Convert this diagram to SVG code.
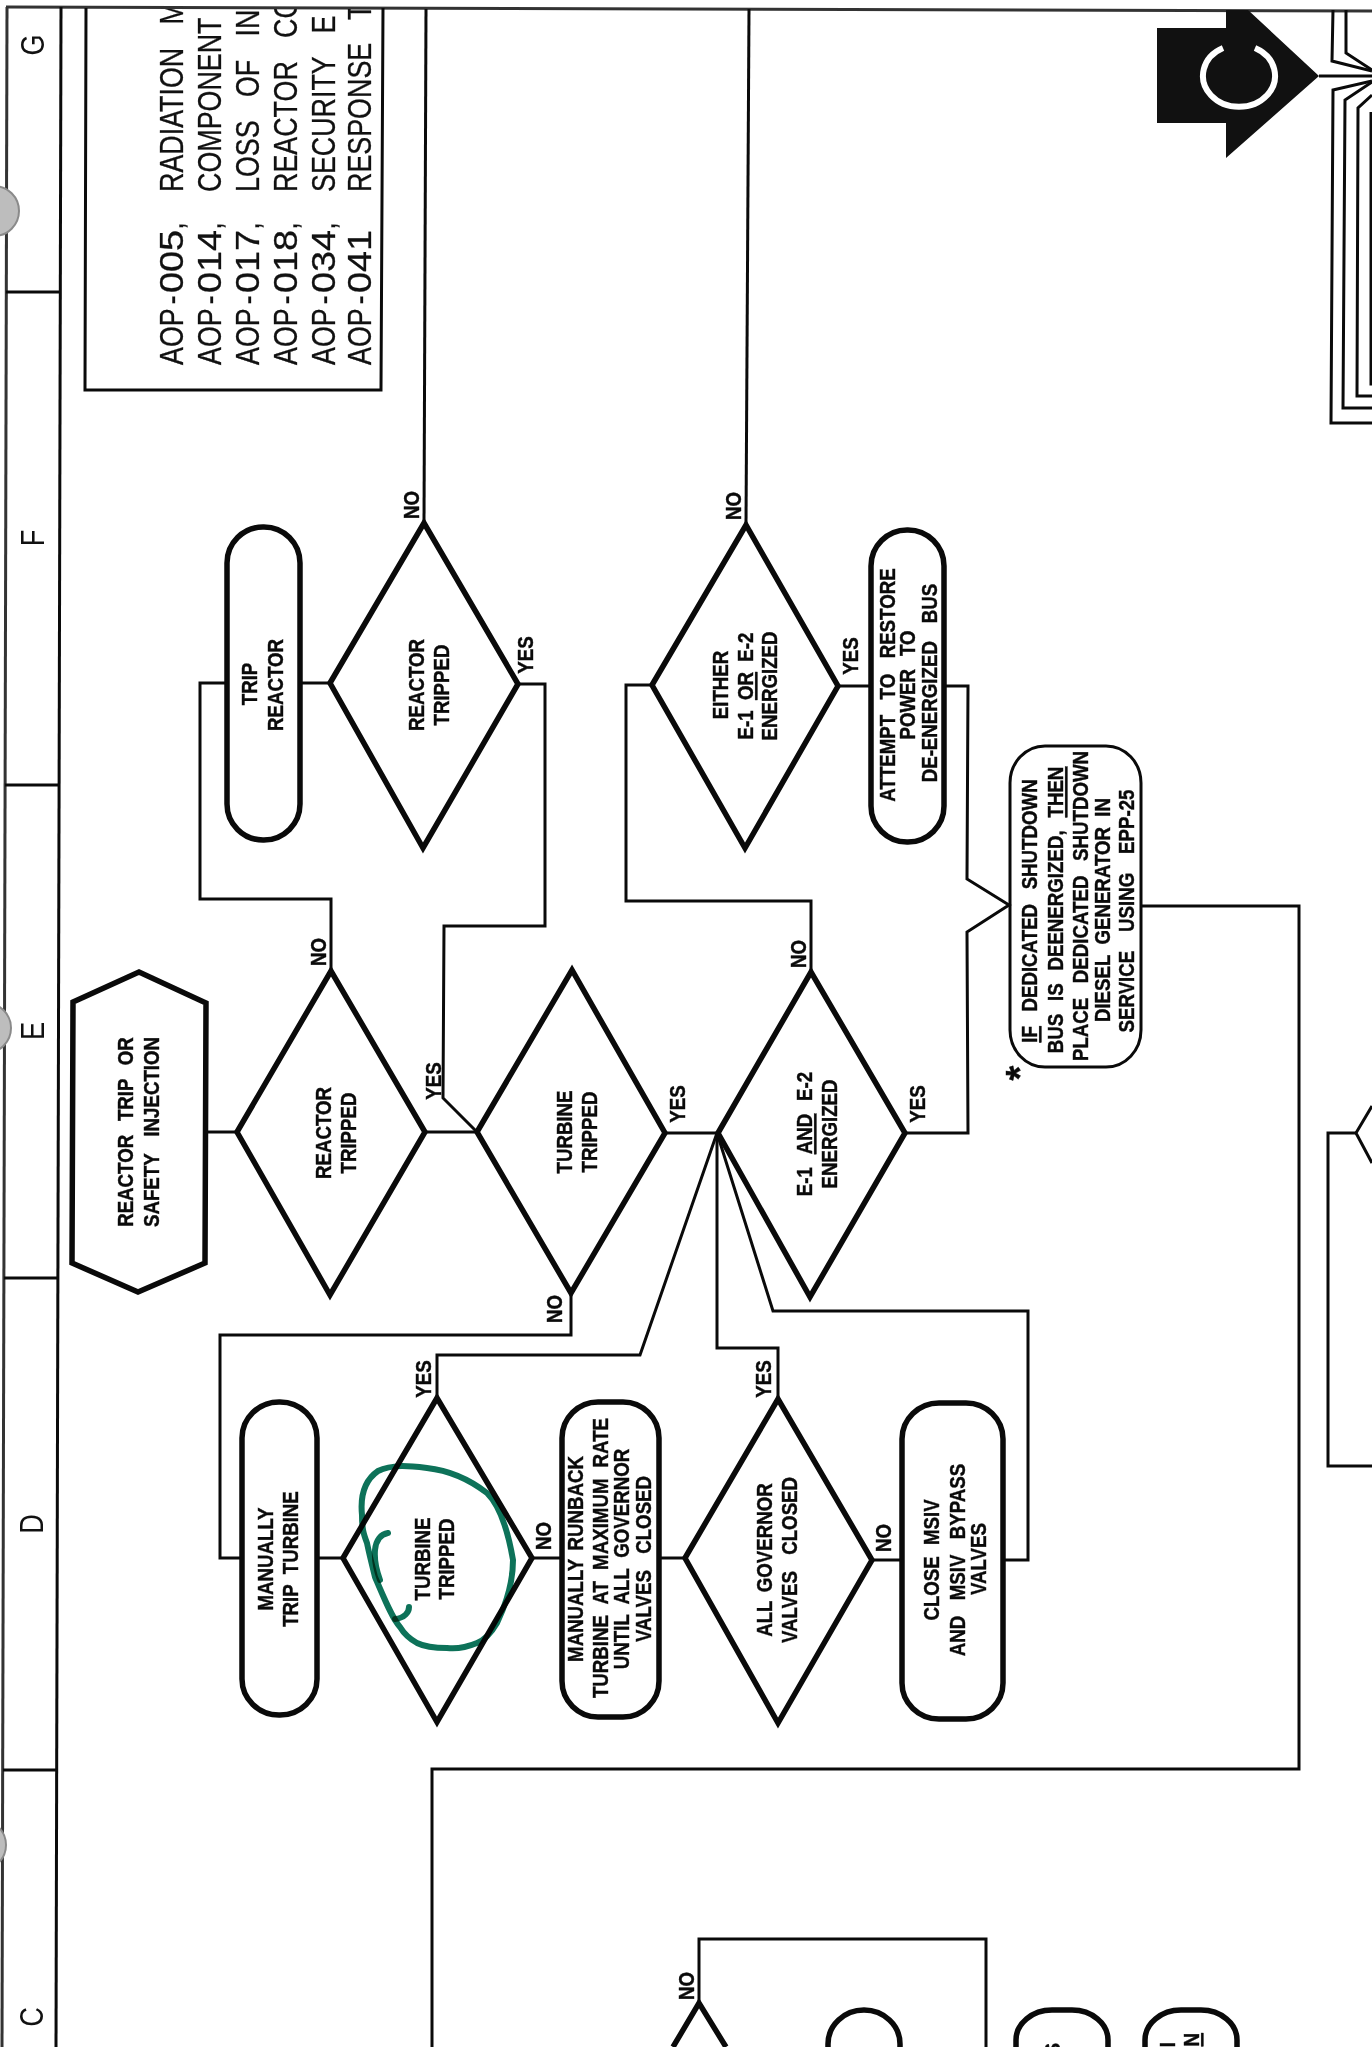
<svg xmlns="http://www.w3.org/2000/svg" width="1372" height="2047" viewBox="0 0 1372 2047">
<style>
.bg{fill:#fff}
.c{fill:none;stroke:#0a0a0a;stroke-width:3;stroke-linejoin:miter}
.n{fill:none;stroke:#0a0a0a;stroke-width:5.5;stroke-linejoin:miter}
.m{fill:none;stroke:#0a0a0a;stroke-width:3}
.f{fill:none;stroke:#333;stroke-width:3}
.t{font-family:"Liberation Sans",Arial,sans-serif;font-weight:700;font-size:22px;text-anchor:middle;fill:#0a0a0a;stroke:#0a0a0a;stroke-width:.4px;word-spacing:6px}
.l{font-family:"Liberation Sans",Arial,sans-serif;font-weight:400;font-size:34px;text-anchor:middle;fill:#111}
.a{font-family:"Liberation Sans",Arial,sans-serif;font-weight:400;font-size:34px;fill:#111;stroke:#111;stroke-width:.3px;word-spacing:20px}
.u{text-decoration:underline}
.p{fill:#bdbdbd;stroke:#8a8a8a;stroke-width:2}
.g{fill:none;stroke:#0d7259;stroke-width:6;stroke-linecap:round;stroke-linejoin:round;mix-blend-mode:multiply}
</style>
<defs><clipPath id="boxclip"><rect x="85" y="9" width="300" height="385"/></clipPath></defs>
<rect class="bg" width="1372" height="2047"/>

<g id="frame">
<path class="f" d="M6,7 L1372,11"/>
<path class="f" d="M7,7 L2,2047"/>
<path class="c" d="M61,7 L56,2047"/>
<path class="c" d="M6,292 L60,292 M5,785 L59,785 M4,1278 L58,1278 M3,1770 L57,1770"/>
<circle class="p" cx="-6" cy="211" r="25"/>
<circle class="p" cx="-14" cy="1028" r="25"/>
<circle class="p" cx="-19" cy="1845" r="25"/>
<text class="l" transform="translate(44,45) rotate(-90) scale(.8,1)">G</text>
<text class="l" transform="translate(44,538) rotate(-90) scale(.8,1)">F</text>
<text class="l" transform="translate(44,1031) rotate(-90) scale(.8,1)">E</text>
<text class="l" transform="translate(43,1524) rotate(-90) scale(.8,1)">D</text>
<text class="l" transform="translate(43,2017) rotate(-90) scale(.8,1)">C</text>
</g>

<g id="connectors">
<path class="c" d="M426,9 L424,523"/>
<path class="c" d="M300,683 L330,683"/>
<path class="c" d="M227,683 L200,683 L200,899 L331,899 L331,971"/>
<path class="c" d="M518,684 L545,684 L545,926 L444,926 L443,1098 L477,1132"/>
<path class="c" d="M206,1132 L237,1132"/>
<path class="c" d="M425,1132 L477,1132"/>
<path class="c" d="M665,1133 L718,1133"/>
<path class="c" d="M571,1293 L571,1335 L220,1335 L220,1558 L242,1558"/>
<path class="c" d="M717,1133 L640,1355 L437,1355 L437,1398"/>
<path class="c" d="M717,1133 L717,1348 L778,1348 L778,1399"/>
<path class="c" d="M717,1133 L773,1311 L1028,1311 L1028,1560 L1003,1560"/>
<path class="c" d="M317,1558 L343,1558"/>
<path class="c" d="M532,1558 L562,1558"/>
<path class="c" d="M659,1558 L685,1558"/>
<path class="c" d="M872,1560 L902,1560"/>
<path class="c" d="M811,972 L811,901 L626,901 L626,685 L652,685"/>
<path class="c" d="M749,9 L746,525"/>
<path class="c" d="M838,686 L871,686"/>
<path class="c" d="M905,1133 L968,1133 L967,932 L1009,905 L967,879 L968,686 L944,686"/>
<path class="c" d="M1141,906 L1299,906 L1299,1769 L432,1769 L432,2047"/>
<path class="c" d="M699,2003 L699,1939 L986,1939 L986,2047"/>
<path class="c" d="M1319,76 L1372,76"/>
<path class="m" d="M1333,10 L1332,61 L1372,71"/>
<path class="m" d="M1346,10 L1346,53 L1372,70"/>
<path class="m" d="M1372,81 L1333,90 L1331,423 L1372,423"/>
<path class="m" d="M1372,82 L1345,100 L1343,408 L1372,408"/>
<path class="m" d="M1372,95 L1358,108 L1357,396 L1372,396"/>
<path class="c" d="M1371,112 L1371,384 L1372,384"/>
<path class="c" d="M1372,1106 L1356,1133 L1372,1163"/>
<path class="c" d="M1356,1133 L1328,1133 L1328,1466 L1372,1466"/>
</g>

<g id="aop-box">
<path class="c" d="M86,8 L85,390 L381,390 L383,8"/>
<g clip-path="url(#boxclip)">
<text class="a" transform="translate(183,365) rotate(-90) scale(.79,1)">AOP<tspan dx="5">-</tspan><tspan dx="3" textLength="80" lengthAdjust="spacingAndGlyphs">005</tspan>,</text>
<text class="a" transform="translate(221,365) rotate(-90) scale(.79,1)">AOP<tspan dx="5">-</tspan><tspan dx="3" textLength="80" lengthAdjust="spacingAndGlyphs">014</tspan>,</text>
<text class="a" transform="translate(259,365) rotate(-90) scale(.79,1)">AOP<tspan dx="5">-</tspan><tspan dx="3" textLength="80" lengthAdjust="spacingAndGlyphs">017</tspan>,</text>
<text class="a" transform="translate(297,365) rotate(-90) scale(.79,1)">AOP<tspan dx="5">-</tspan><tspan dx="3" textLength="80" lengthAdjust="spacingAndGlyphs">018</tspan>,</text>
<text class="a" transform="translate(335,365) rotate(-90) scale(.79,1)">AOP<tspan dx="5">-</tspan><tspan dx="3" textLength="80" lengthAdjust="spacingAndGlyphs">034</tspan>,</text>
<text class="a" transform="translate(371,365) rotate(-90) scale(.79,1)">AOP<tspan dx="5">-</tspan><tspan dx="3" textLength="80" lengthAdjust="spacingAndGlyphs">041</tspan></text>
<text class="a" transform="translate(183,192) rotate(-90) scale(.79,1)">RADIATION M</text>
<text class="a" transform="translate(221,192) rotate(-90) scale(.79,1)">COMPONENT</text>
<text class="a" transform="translate(259,192) rotate(-90) scale(.79,1)">LOSS OF IN</text>
<text class="a" transform="translate(297,192) rotate(-90) scale(.79,1)">REACTOR CO</text>
<text class="a" transform="translate(335,192) rotate(-90) scale(.79,1)">SECURITY E</text>
<text class="a" transform="translate(371,192) rotate(-90) scale(.79,1)">RESPONSE T</text>
</g>
</g>

<g id="offpage-symbol">
<path fill="#111" d="M1157,28 L1226,28 L1226,10 L1248,10 L1319,76 L1226,158 L1226,123 L1157,123 Z"/>
<path fill="none" stroke="#fff" stroke-width="6" d="M1223,48 A36,31 0 1 0 1255,48"/>
</g>

<g id="n-start">
<polygon class="n" points="73,1002 139,972 206,1003 205,1263 138,1292 72,1263"/>
<text class="t" style="word-spacing:10px" transform="translate(133,1132) rotate(-90) scale(.85,1)">REACTOR TRIP OR</text>
<text class="t" style="word-spacing:14px" transform="translate(159,1132) rotate(-90) scale(.85,1)">SAFETY INJECTION</text>
</g>
<g id="n-reactor-tripped-1">
<polygon class="n" points="237,1132 331,971 425,1132 330,1295"/>
<text class="t" transform="translate(331,1133) rotate(-90) scale(.85,1)">REACTOR</text>
<text class="t" transform="translate(356,1133) rotate(-90) scale(.85,1)">TRIPPED</text>
<text class="t" transform="translate(326,952) rotate(-90) scale(.85,1)">NO</text>
<text class="t" transform="translate(441,1081) rotate(-90) scale(.85,1)">YES</text>
</g>
<g id="n-reactor-tripped-2">
<polygon class="n" points="330,683 424,523 518,684 423,848"/>
<text class="t" transform="translate(424,685) rotate(-90) scale(.85,1)">REACTOR</text>
<text class="t" transform="translate(449,685) rotate(-90) scale(.85,1)">TRIPPED</text>
<text class="t" transform="translate(419,505) rotate(-90) scale(.85,1)">NO</text>
<text class="t" transform="translate(533,655) rotate(-90) scale(.85,1)">YES</text>
</g>
<g id="n-trip-reactor">
<rect class="n" x="227" y="527" width="73" height="313" rx="36" ry="36"/>
<text class="t" transform="translate(257,684) rotate(-90) scale(.85,1)">TRIP</text>
<text class="t" transform="translate(283,685) rotate(-90) scale(.85,1)">REACTOR</text>
</g>
<g id="n-turbine-tripped-1">
<polygon class="n" points="477,1132 572,970 665,1133 571,1293"/>
<text class="t" transform="translate(572,1132) rotate(-90) scale(.85,1)">TURBINE</text>
<text class="t" transform="translate(597,1132) rotate(-90) scale(.85,1)">TRIPPED</text>
<text class="t" transform="translate(685,1104) rotate(-90) scale(.85,1)">YES</text>
<text class="t" transform="translate(562,1309) rotate(-90) scale(.85,1)">NO</text>
</g>
<g id="n-e1-and-e2">
<polygon class="n" points="718,1133 811,972 905,1133 810,1297"/>
<text class="t" style="word-spacing:9px" transform="translate(812,1134) rotate(-90) scale(.85,1)">E-1 <tspan class="u">AND</tspan> E-2</text>
<text class="t" transform="translate(837,1134) rotate(-90) scale(.85,1)">ENERGIZED</text>
<text class="t" transform="translate(806,954) rotate(-90) scale(.85,1)">NO</text>
<text class="t" transform="translate(925,1104) rotate(-90) scale(.85,1)">YES</text>
</g>
<g id="n-either">
<polygon class="n" points="652,685 746,525 838,686 745,848"/>
<text class="t" transform="translate(728,685) rotate(-90) scale(.85,1)">EITHER</text>
<text class="t" style="word-spacing:6px" transform="translate(753,686) rotate(-90) scale(.85,1)">E-1 <tspan class="u">OR</tspan> E-2</text>
<text class="t" transform="translate(777,686) rotate(-90) scale(.85,1)">ENERGIZED</text>
<text class="t" transform="translate(741,506) rotate(-90) scale(.85,1)">NO</text>
<text class="t" transform="translate(858,656) rotate(-90) scale(.85,1)">YES</text>
</g>
<g id="n-attempt">
<rect class="n" x="871" y="530" width="73" height="312" rx="36" ry="36"/>
<text class="t" style="word-spacing:12px" transform="translate(895,685) rotate(-90) scale(.85,1)">ATTEMPT TO RESTORE</text>
<text class="t" style="word-spacing:9px" transform="translate(915,685) rotate(-90) scale(.85,1)">POWER TO</text>
<text class="t" style="word-spacing:15px" transform="translate(937,683) rotate(-90) scale(.85,1)">DE-ENERGIZED BUS</text>
</g>
<g id="n-note">
<rect class="c" x="1010" y="746" width="131" height="321" rx="35" ry="37"/>
<text class="t" style="word-spacing:11px" transform="translate(1037,911) rotate(-90) scale(.85,1)"><tspan class="u">IF</tspan> DEDICATED SHUTDOWN</text>
<text class="t" style="word-spacing:9px" transform="translate(1063,910) rotate(-90) scale(.85,1)">BUS IS DEENERGIZED, <tspan class="u">THEN</tspan></text>
<text class="t" style="word-spacing:11px" transform="translate(1088,906) rotate(-90) scale(.85,1)">PLACE DEDICATED SHUTDOWN</text>
<text class="t" transform="translate(1110,910) rotate(-90) scale(.85,1)">DIESEL GENERATOR IN</text>
<text class="t" style="word-spacing:16px" transform="translate(1134,911) rotate(-90) scale(.85,1)">SERVICE USING EPP-25</text>
<text class="t" style="font-size:38px" transform="translate(1033,1073) rotate(-90)">*</text>
</g>
<g id="n-manually-trip">
<rect class="n" x="242" y="1402" width="75" height="313" rx="37" ry="36"/>
<text class="t" transform="translate(273,1559) rotate(-90) scale(.85,1)">MANUALLY</text>
<text class="t" transform="translate(298,1559) rotate(-90) scale(.85,1)">TRIP TURBINE</text>
</g>
<g id="n-turbine-tripped-2">
<polygon class="n" points="343,1558 437,1398 532,1558 437,1722"/>
<text class="t" transform="translate(430,1559) rotate(-90) scale(.85,1)">TURBINE</text>
<text class="t" transform="translate(454,1559) rotate(-90) scale(.85,1)">TRIPPED</text>
<text class="t" transform="translate(431,1379) rotate(-90) scale(.85,1)">YES</text>
<text class="t" transform="translate(551,1536) rotate(-90) scale(.85,1)">NO</text>
</g>
<g id="n-runback">
<rect class="n" x="562" y="1402" width="97" height="315" rx="36" ry="36"/>
<text class="t" style="word-spacing:4px" transform="translate(583,1559) rotate(-90) scale(.85,1)">MANUALLY RUNBACK</text>
<text class="t" style="word-spacing:7px" transform="translate(608,1558) rotate(-90) scale(.85,1)">TURBINE AT MAXIMUM RATE</text>
<text class="t" style="word-spacing:6.5px" transform="translate(629,1559) rotate(-90) scale(.85,1)">UNTIL ALL GOVERNOR</text>
<text class="t" style="word-spacing:13px" transform="translate(651,1559) rotate(-90) scale(.85,1)">VALVES CLOSED</text>
</g>
<g id="n-all-governor">
<polygon class="n" points="685,1558 778,1399 872,1560 778,1723"/>
<text class="t" style="word-spacing:4px" transform="translate(772,1560) rotate(-90) scale(.85,1)">ALL GOVERNOR</text>
<text class="t" style="word-spacing:13px" transform="translate(797,1560) rotate(-90) scale(.85,1)">VALVES CLOSED</text>
<text class="t" transform="translate(771,1379) rotate(-90) scale(.85,1)">YES</text>
<text class="t" transform="translate(891,1538) rotate(-90) scale(.85,1)">NO</text>
</g>
<g id="n-close-msiv">
<rect class="n" x="902" y="1403" width="101" height="316" rx="37" ry="36"/>
<text class="t" style="word-spacing:7px" transform="translate(939,1560) rotate(-90) scale(.85,1)">CLOSE MSIV</text>
<text class="t" style="word-spacing:12px" transform="translate(965,1560) rotate(-90) scale(.85,1)">AND MSIV BYPASS</text>
<text class="t" transform="translate(986,1559) rotate(-90) scale(.85,1)">VALVES</text>
</g>

<g id="n-bottom-diamond">
<path class="n" d="M673,2047 L699,2003 L726,2047"/>
<text class="t" transform="translate(694,1986) rotate(-90) scale(.85,1)">NO</text>
</g>
<g id="n-bottom-pill-1"><rect class="n" x="828" y="2010" width="72" height="100" rx="36" ry="34"/></g>
<g id="n-bottom-pill-2">
<rect class="n" x="1016" y="2010" width="92" height="100" rx="36" ry="30"/>
<text class="t" style="text-anchor:end" transform="translate(1060,2043) rotate(-90) scale(.85,1)">S</text>
</g>
<g id="n-bottom-pill-3">
<rect class="n" x="1145" y="2010" width="92" height="100" rx="36" ry="30"/>
<text class="t" style="text-anchor:end" transform="translate(1175,2042) rotate(-90) scale(.85,1)">I</text>
<text class="t u" style="text-anchor:end" transform="translate(1199,2033) rotate(-90) scale(.85,1)">N</text>
</g>

<g id="pen-mark">
<path class="g" d="M367,1543 C364,1535 362,1530 362,1515 C360,1495 365,1480 378,1471 C392,1464 410,1466 427,1468 C445,1470 465,1476 487,1493 C497,1503 507,1525 513,1560 C513,1580 508,1600 497,1623 C490,1635 482,1641 477,1643 C465,1648 455,1649 447,1648 C435,1648 425,1647 417,1643 C408,1638 403,1632 400,1627 C392,1618 385,1600 375,1577 C372,1565 369,1553 367,1543 Z"/>
<path class="g" d="M388,1533 C381,1534 376,1540 375,1550 C374,1562 377,1572 380,1580"/>
<path class="g" d="M409,1607 C409,1612 405,1618 395,1619"/>
</g>
</svg>
